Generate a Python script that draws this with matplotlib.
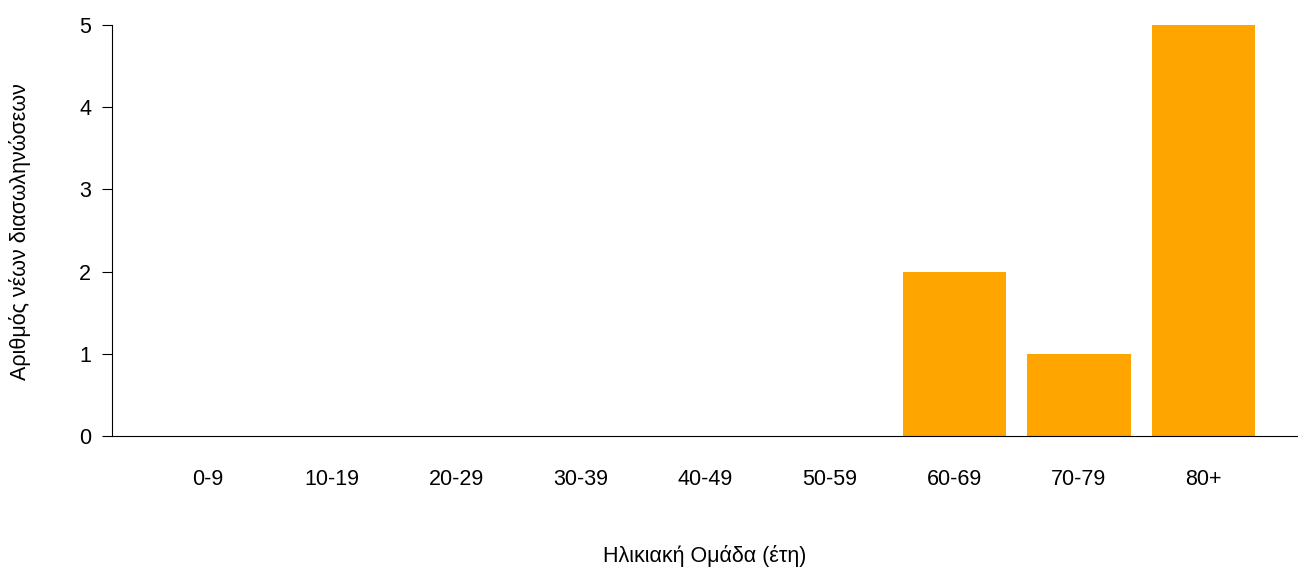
import matplotlib
matplotlib.use("Agg")
import matplotlib.pyplot as plt

categories = ["0-9","10-19","20-29","30-39","40-49","50-59","60-69","70-79","80+"]
values = [0,0,0,0,0,0,2,1,5]

plt.rcParams['font.family'] = ['Liberation Sans', 'DejaVu Sans']
fig = plt.figure(figsize=(12.98,5.68), dpi=100)
W,H = 1298,568
ax = fig.add_axes([112/W, (H-436)/H, (1298-112)/W, (436-25)/H])
x = list(range(len(categories)))
ax.bar(x, values, width=1/1.2, color='#FFA500')
ax.set_xlim(-0.77, 8.76)
ax.set_ylim(0,5)
ax.set_yticks([0,1,2,3,4,5])
ax.set_xticks(x)
ax.set_xticklabels(categories, fontsize=15.5)
ax.tick_params(axis='x', length=0, pad=24)
ax.tick_params(axis='y', labelsize=15.5, length=7, pad=8)
for s in ['top','right']:
    ax.spines[s].set_visible(False)
ax.spines['left'].set_linewidth(0.8)
ax.spines['bottom'].set_linewidth(0.8)
fig.text(705/W, 1-556/H, "Ηλικιακή Ομάδα (έτη)", ha='center', va='center', fontsize=15.5)
fig.text(20/W, 1-232/H, "Αριθμός νέων διασωληνώσεων", ha='center', va='center', rotation=90, fontsize=15.5)
fig.savefig("out.png", dpi=100)
